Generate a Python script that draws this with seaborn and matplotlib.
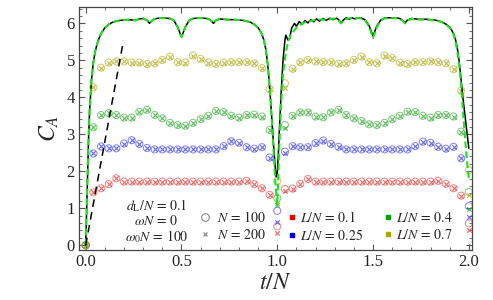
import numpy as np
import pandas as pd
import matplotlib
matplotlib.use("Agg")
import matplotlib.pyplot as plt
import seaborn as sns
from matplotlib.lines import Line2D
from matplotlib.ticker import MultipleLocator

# ---------------- data ----------------
t_pts = [0.00, 0.04, 0.08, 0.12, 0.16, 0.20, 0.24, 0.28, 0.32, 0.36, 0.40, 0.44, 0.48,
         0.52, 0.56, 0.60, 0.64, 0.68, 0.72, 0.76, 0.80, 0.84, 0.88, 0.92, 0.96, 1.00,
         1.04, 1.08, 1.12, 1.16, 1.20, 1.24, 1.28, 1.32, 1.36, 1.40, 1.44, 1.48, 1.52,
         1.56, 1.60, 1.64, 1.68, 1.72, 1.76, 1.80, 1.84, 1.88, 1.92, 1.96, 2.00]

# L/N = 0.1
red_100 = [0.00, 1.43, 1.54, 1.65, 1.81, 1.72, 1.72, 1.72, 1.72, 1.72, 1.72, 1.72, 1.72,
           1.72, 1.72, 1.72, 1.72, 1.72, 1.72, 1.72, 1.72, 1.74, 1.65, 1.54, 1.36, 0.51,
           1.52, 1.53, 1.66, 1.79, 1.72, 1.72, 1.72, 1.72, 1.72, 1.72, 1.72, 1.72, 1.72,
           1.72, 1.72, 1.72, 1.72, 1.72, 1.72, 1.72, 1.74, 1.66, 1.54, 1.34, 0.59]
red_200 = [0.00, 1.43, 1.54, 1.65, 1.81, 1.72, 1.72, 1.72, 1.72, 1.72, 1.72, 1.72, 1.72,
           1.72, 1.72, 1.72, 1.72, 1.72, 1.72, 1.72, 1.72, 1.74, 1.65, 1.54, 1.36, 0.34,
           1.47, 1.53, 1.66, 1.79, 1.72, 1.72, 1.72, 1.72, 1.72, 1.72, 1.72, 1.72, 1.72,
           1.72, 1.72, 1.72, 1.72, 1.72, 1.72, 1.72, 1.74, 1.66, 1.54, 1.34, 0.41]
# L/N = 0.25
blue_100 = [0.00, 2.48, 2.67, 2.62, 2.62, 2.75, 2.84, 2.74, 2.63, 2.59, 2.59, 2.59, 2.59,
            2.59, 2.59, 2.59, 2.59, 2.59, 2.68, 2.81, 2.77, 2.65, 2.61, 2.65, 2.37, 0.93,
            2.53, 2.68, 2.65, 2.65, 2.76, 2.83, 2.74, 2.66, 2.59, 2.59, 2.59, 2.59, 2.59,
            2.59, 2.59, 2.59, 2.59, 2.68, 2.80, 2.77, 2.66, 2.61, 2.66, 2.35, 1.06]
blue_200 = [0.00, 2.48, 2.67, 2.62, 2.62, 2.75, 2.84, 2.74, 2.63, 2.59, 2.59, 2.59, 2.59,
            2.59, 2.59, 2.59, 2.59, 2.59, 2.68, 2.81, 2.77, 2.65, 2.61, 2.65, 2.37, 0.63,
            2.48, 2.68, 2.65, 2.65, 2.76, 2.83, 2.74, 2.66, 2.59, 2.59, 2.59, 2.59, 2.59,
            2.59, 2.59, 2.59, 2.59, 2.68, 2.80, 2.77, 2.66, 2.61, 2.66, 2.35, 0.75]
# L/N = 0.4
green_100 = [0.00, 3.19, 3.52, 3.57, 3.52, 3.45, 3.45, 3.61, 3.66, 3.52, 3.43, 3.31, 3.25,
             3.23, 3.31, 3.41, 3.50, 3.63, 3.60, 3.50, 3.45, 3.52, 3.53, 3.48, 3.12, 1.27,
             3.25, 3.50, 3.59, 3.59, 3.48, 3.46, 3.59, 3.66, 3.52, 3.43, 3.36, 3.27, 3.25,
             3.31, 3.41, 3.50, 3.61, 3.60, 3.50, 3.45, 3.52, 3.52, 3.48, 3.07, 1.44]
green_200 = [0.00, 3.19, 3.52, 3.57, 3.52, 3.45, 3.45, 3.61, 3.66, 3.52, 3.43, 3.31, 3.25,
             3.23, 3.31, 3.41, 3.50, 3.63, 3.60, 3.50, 3.45, 3.52, 3.53, 3.48, 3.12, 1.08,
             3.16, 3.50, 3.59, 3.59, 3.48, 3.46, 3.59, 3.66, 3.52, 3.43, 3.36, 3.27, 3.25,
             3.31, 3.41, 3.50, 3.61, 3.60, 3.50, 3.45, 3.52, 3.52, 3.48, 3.07, 0.99]
# L/N = 0.7
yellow_100 = [0.00, 4.27, 4.80, 4.94, 4.97, 4.97, 4.94, 4.94, 4.90, 4.92, 5.01, 5.10, 4.95,
              4.94, 5.13, 5.04, 4.94, 4.90, 4.94, 4.95, 4.95, 4.95, 4.92, 4.79, 4.22, 1.74,
              4.38, 4.77, 4.95, 5.01, 4.97, 4.95, 4.95, 4.91, 4.92, 5.01, 5.10, 4.95, 4.92,
              5.13, 5.06, 4.94, 4.90, 4.95, 4.95, 4.97, 4.95, 4.92, 4.76, 4.18, 2.03]
yellow_200 = [0.00, 4.27, 4.80, 4.94, 4.97, 4.97, 4.94, 4.94, 4.90, 4.92, 5.01, 5.10, 4.95,
              4.94, 5.13, 5.04, 4.94, 4.90, 4.94, 4.95, 4.95, 4.95, 4.92, 4.79, 4.22, 1.15,
              4.26, 4.77, 4.95, 5.01, 4.97, 4.95, 4.95, 4.91, 4.92, 5.01, 5.10, 4.95, 4.92,
              5.13, 5.06, 4.94, 4.90, 4.95, 4.95, 4.97, 4.95, 4.92, 4.76, 4.18, 1.36]

# green dashed curve
green_t = [0.0, 0.005, 0.01, 0.015, 0.02, 0.03, 0.04, 0.05, 0.06, 0.07, 0.08,
           0.10, 0.12, 0.14, 0.16, 0.18, 0.20, 0.22, 0.24, 0.26, 0.28, 0.30, 0.32,
           0.333, 0.345,
           0.36, 0.38, 0.40, 0.42, 0.44, 0.46, 0.48, 0.50, 0.52, 0.54, 0.56, 0.58, 0.60, 0.62, 0.64,
           0.655, 0.667,
           0.68, 0.70, 0.72, 0.74, 0.76, 0.78, 0.80, 0.82, 0.84, 0.86, 0.88, 0.90,
           0.91, 0.92, 0.93, 0.94, 0.95, 0.96, 0.97, 0.98, 0.99, 1.00,
           1.005, 1.01, 1.02, 1.03, 1.04, 1.05, 1.06, 1.07, 1.08,
           1.10, 1.12, 1.14, 1.16, 1.18, 1.20, 1.22, 1.24, 1.26, 1.28, 1.30, 1.32,
           1.333, 1.345,
           1.36, 1.38, 1.40, 1.42, 1.44, 1.46, 1.48, 1.50, 1.52, 1.54, 1.56, 1.58, 1.60, 1.62, 1.64,
           1.655, 1.667,
           1.68, 1.70, 1.72, 1.74, 1.76, 1.78, 1.80, 1.82, 1.84, 1.86, 1.88, 1.90,
           1.91, 1.92, 1.93, 1.94, 1.95, 1.96, 1.97, 1.98, 1.99, 2.00]
green_c = [0.0, 1.0, 2.0, 2.9, 3.6, 4.45, 4.95, 5.25, 5.45, 5.6, 5.72,
           5.88, 5.97, 6.03, 6.06, 6.08, 6.09, 6.10, 6.09, 6.08, 6.12, 6.13, 6.08,
           6.00, 6.07,
           6.12, 6.14, 6.14, 6.14, 6.13, 6.08, 5.90, 5.63, 5.90, 6.08, 6.13, 6.14, 6.14, 6.14, 6.12,
           6.07, 6.00,
           6.08, 6.12, 6.11, 6.10, 6.10, 6.10, 6.09, 6.08, 6.06, 6.03, 5.97, 5.88,
           5.80, 5.70, 5.55, 5.30, 4.90, 4.30, 3.50, 2.60, 1.70, 1.10,
           1.8, 2.6, 3.8, 4.6, 5.05, 5.35, 5.55, 5.68, 5.76,
           5.88, 5.96, 6.02, 6.05, 6.07, 6.09, 6.10, 6.10, 6.09, 6.12, 6.13, 6.08,
           6.00, 6.07,
           6.12, 6.14, 6.14, 6.14, 6.13, 6.08, 5.90, 5.60, 5.90, 6.08, 6.13, 6.14, 6.14, 6.14, 6.12,
           6.07, 6.00,
           6.08, 6.12, 6.11, 6.10, 6.10, 6.10, 6.09, 6.08, 6.06, 6.03, 5.97, 5.88,
           5.80, 5.70, 5.52, 5.25, 4.85, 4.30, 3.60, 2.90, 2.30, 1.82]

# black solid curve
black_t = [0.0, 0.005, 0.01, 0.015, 0.02, 0.03, 0.04, 0.05, 0.06, 0.07, 0.08,
           0.10, 0.12, 0.14, 0.16, 0.18, 0.20, 0.22, 0.24, 0.26, 0.28, 0.30, 0.32,
           0.333, 0.345,
           0.36, 0.38, 0.40, 0.42, 0.44, 0.46, 0.48, 0.50, 0.52, 0.54, 0.56, 0.58, 0.60, 0.62, 0.64,
           0.655, 0.667,
           0.68, 0.70, 0.72, 0.74, 0.76, 0.78, 0.80, 0.82, 0.84, 0.86, 0.88, 0.90,
           0.91, 0.92, 0.93, 0.94, 0.95, 0.96,
           0.97, 0.98, 0.99, 0.995, 1.00, 1.005, 1.01, 1.02, 1.03, 1.04, 1.045, 1.055,
           1.065, 1.075, 1.09, 1.10, 1.115, 1.13, 1.145, 1.16, 1.175, 1.19, 1.205, 1.22,
           1.24, 1.255, 1.275, 1.29, 1.31, 1.322, 1.333, 1.345, 1.36, 1.375, 1.39, 1.405,
           1.42, 1.44, 1.46, 1.48, 1.50, 1.52, 1.54, 1.56, 1.58, 1.60, 1.62, 1.64, 1.655,
           1.667, 1.68, 1.70, 1.72, 1.74, 1.76, 1.78, 1.80, 1.82, 1.84, 1.86, 1.88, 1.90,
           1.91, 1.92, 1.93, 1.94, 1.95, 1.96, 1.97, 1.98, 1.99, 2.00]
black_c = [0.0, 1.0, 2.0, 2.9, 3.6, 4.45, 4.95, 5.25, 5.45, 5.6, 5.72,
           5.88, 5.97, 6.03, 6.06, 6.08, 6.09, 6.10, 6.09, 6.08, 6.12, 6.13, 6.08,
           6.00, 6.07,
           6.12, 6.14, 6.14, 6.14, 6.13, 6.08, 5.90, 5.63, 5.90, 6.08, 6.13, 6.14, 6.14, 6.14, 6.12,
           6.07, 6.00,
           6.08, 6.12, 6.11, 6.10, 6.10, 6.10, 6.09, 6.08, 6.06, 6.03, 5.97, 5.88,
           5.80, 5.70, 5.55, 5.30, 4.90, 4.30,
           3.55, 2.75, 2.05, 1.85, 1.95, 2.40, 3.00, 4.10, 5.00, 5.55, 5.68, 5.55,
           5.60, 5.87, 6.00, 5.92, 6.05, 5.97, 6.08, 6.01, 6.10, 6.04, 6.12, 6.06,
           6.13, 6.08, 6.14, 6.10, 6.14, 6.09, 6.01, 6.09, 6.15, 6.11, 6.15, 6.12,
           6.15, 6.14, 6.09, 5.93, 5.66, 5.93, 6.09, 6.14, 6.15, 6.15, 6.15, 6.13, 6.08,
           6.01, 6.09, 6.13, 6.12, 6.11, 6.11, 6.11, 6.10, 6.09, 6.07, 6.04, 5.98, 5.90,
           5.82, 5.72, 5.57, 5.33, 4.95, 4.45, 3.95, 3.50, 3.05, 2.62]

# black dashed guide line
guide_t = [0.0, 0.197]
guide_c = [0.0, 5.53]

series_labels = [r"$L/N\,=\,0.1$", r"$L/N\,=\,0.25$", r"$L/N\,=\,0.4$", r"$L/N\,=\,0.7$"]
marker_colors = ["#f04848", "#4848f0", "#3cb03c", "#b4b020"]
legend_colors = ["#e00000", "#0000e0", "#00a000", "#a8a800"]
vals_100 = [red_100, blue_100, green_100, yellow_100]
vals_200 = [red_200, blue_200, green_200, yellow_200]

# ---------------- figure ----------------
sns.set_style("ticks")
plt.rcParams["font.family"] = ["Liberation Serif", "DejaVu Serif"]
plt.rcParams["mathtext.fontset"] = "stix"

fig = plt.figure(figsize=(4.93, 3.0), dpi=100)
ax = fig.add_axes([79 / 493, 1 - 250 / 300, 392.7 / 493, 243.3 / 300])

for col, v100, v200 in zip(marker_colors, vals_100, vals_200):
    sns.scatterplot(x=t_pts, y=v100, ax=ax, marker="o", s=26, color=col,
                    facecolors="none", edgecolor=col, linewidth=0.75, alpha=0.65,
                    legend=False, zorder=3)
    sns.scatterplot(x=t_pts, y=v200, ax=ax, marker="x", s=11, color=col,
                    linewidth=0.85, alpha=0.8, legend=False, zorder=3)

sns.lineplot(x=black_t, y=black_c, ax=ax, color="black", lw=1.1,
             sort=False, estimator=None, zorder=4)
sns.lineplot(x=green_t, y=green_c, ax=ax, color="#1ee01e", lw=1.5,
             linestyle=(0, (3.2, 1.6)), sort=False, estimator=None, zorder=5)
sns.lineplot(x=guide_t, y=guide_c, ax=ax, color="black", lw=1.1,
             linestyle=(0, (5, 3.5)), sort=False, estimator=None, zorder=5)

ax.set_xlim(-0.035, 2.015)
ax.set_ylim(-0.13, 6.45)
ax.xaxis.set_major_locator(MultipleLocator(0.5))
ax.xaxis.set_minor_locator(MultipleLocator(0.1))
ax.yaxis.set_major_locator(MultipleLocator(1))
ax.yaxis.set_minor_locator(MultipleLocator(0.2))
ax.set_xticks([0, 0.5, 1.0, 1.5, 2.0])
ax.set_xticklabels(["0.0", "0.5", "1.0", "1.5", "2.0"])
ax.set_yticks([0, 1, 2, 3, 4, 5, 6])
ax.set_yticklabels(["0", "1", "2", "3", "4", "5", "6"])
ax.tick_params(which="both", direction="in", top=True, right=True,
               color="#555555", labelsize=12, pad=3)
ax.tick_params(which="major", length=4, width=0.8)
ax.tick_params(which="minor", length=2.2, width=0.6)
for sp in ax.spines.values():
    sp.set_color("#444444")
    sp.set_linewidth(0.9)

ax.set_xlabel(r"$t/N$", fontsize=17, labelpad=2)
ax.set_ylabel(r"$C_A$", fontsize=17, labelpad=4)

# legend-like annotations
fs = 10
ax.text(0.197, 0.183, r"$d_{\mathrm{L}}/N\,=\,0.1$", transform=ax.transAxes,
        ha="center", va="center", fontsize=fs)
ax.text(0.197, 0.119, r"$\omega N\,=\,0$", transform=ax.transAxes,
        ha="center", va="center", fontsize=fs)
ax.text(0.197, 0.055, r"$\omega_0 N\,=\,100$", transform=ax.transAxes,
        ha="center", va="center", fontsize=fs)

n_handles = [Line2D([], [], ls="none", marker="o", mfc="none", mec="#888888", ms=5.5, mew=0.8),
             Line2D([], [], ls="none", marker="x", color="#888888", ms=3.2, mew=0.9)]
leg1 = ax.legend(n_handles, [r"$N\,=\,100$", r"$N\,=\,200$"], loc="upper left",
                 bbox_to_anchor=(0.303, 0.163), frameon=False, fontsize=fs,
                 handlelength=1.0, handletextpad=0.35, labelspacing=0.2,
                 borderpad=0, borderaxespad=0)
ax.add_artist(leg1)

l_handles = [Line2D([], [], ls="none", marker="s", color=c, ms=3.3) for c in legend_colors]
leg2 = ax.legend(l_handles, series_labels, loc="upper left", ncol=2,
                 bbox_to_anchor=(0.532, 0.163), frameon=False, fontsize=fs,
                 handlelength=0.6, handletextpad=0.3, labelspacing=0.2,
                 columnspacing=1.45, borderpad=0, borderaxespad=0)

fig.savefig("out.png", dpi=100)
